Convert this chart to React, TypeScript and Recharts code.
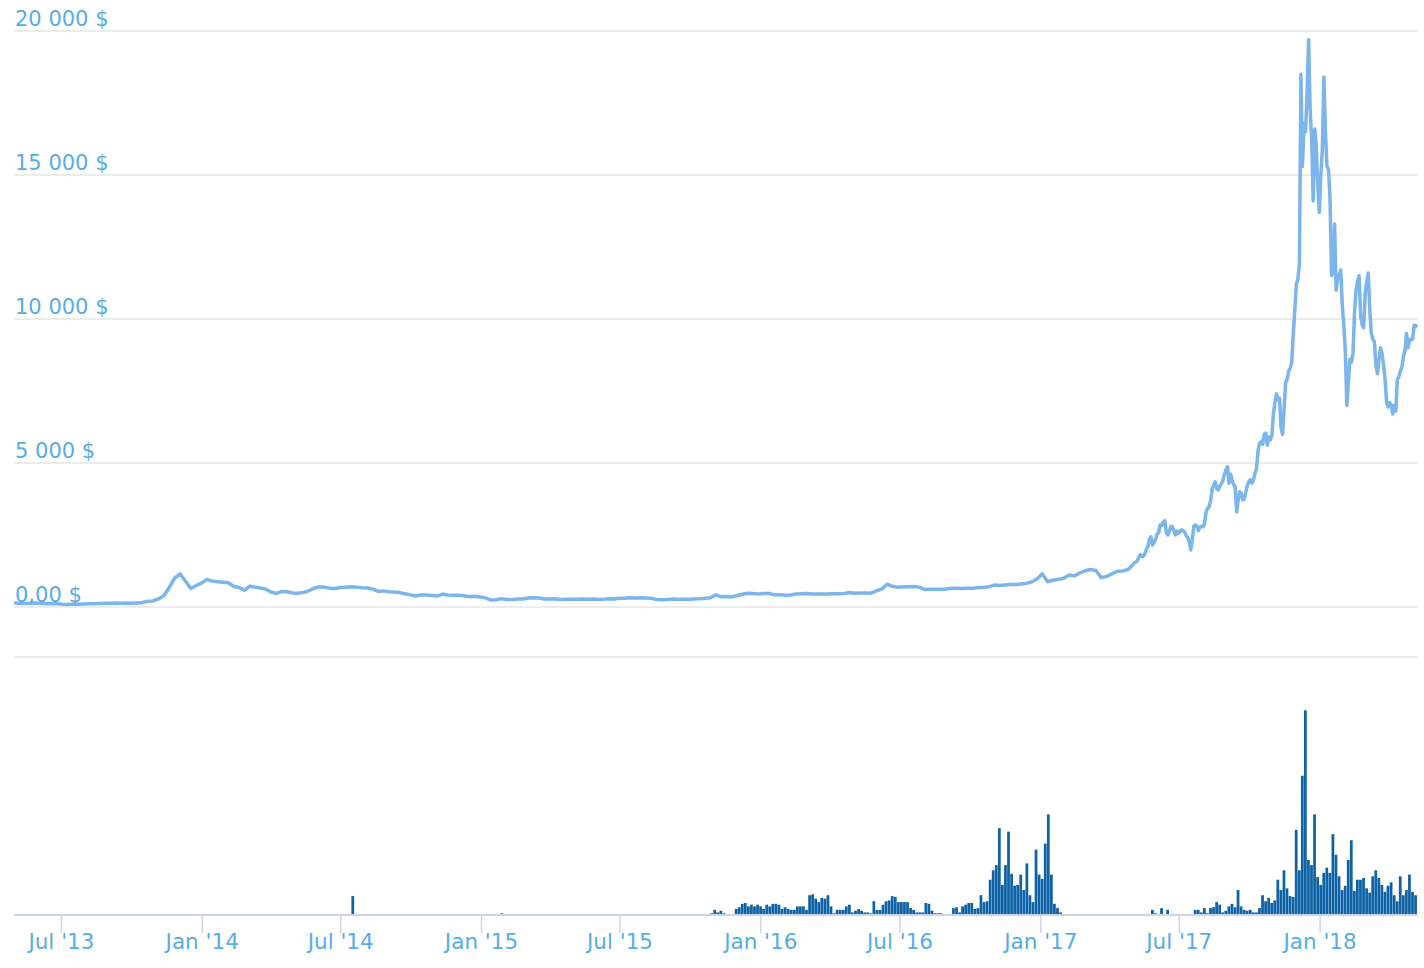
import React from "react"
import {
  LineChart,
  Line,
  BarChart,
  Bar,
  XAxis,
  YAxis,
  CartesianGrid,
} from "recharts"

// weekly closes (USD), first week starts 2013-04-30
const priceWeeklyStart = "2013-04-30"
const priceWeekly = [
  // 2013
  150, 125, 125, 130, 135, 128, 115, 112, 110, 95, 85, 100, 98, 108, 110, 110, 125, 130,
  130, 135, 130, 138, 130, 135, 160, 200, 210, 280, 400, 680, 1000, 1150, 900, 640, 740, 830,
  // 2014
  960, 900, 880, 860, 840, 720, 680, 580, 720, 690, 660, 620, 520, 470, 540, 530, 490, 480,
  500, 560, 650, 700, 690, 650, 640, 680, 690, 700, 690, 670, 660, 620, 540, 560, 530, 520,
  500, 460, 420, 380, 420, 420, 400, 380, 450, 420, 410, 410, 390, 360, 370, 350,
  // 2015
  320, 240, 250, 290, 260, 260, 280, 280, 310, 320, 310, 280, 280, 290, 260, 270, 265, 270,
  275, 270, 275, 265, 265, 285, 280, 300, 305, 320, 315, 325, 315, 300, 260, 255, 260, 275,
  265, 265, 270, 280, 285, 300, 320, 420, 360, 365, 350, 400, 440, 480, 465, 455,
  // 2016
  470, 470, 420, 430, 410, 420, 450, 460, 470, 450, 450, 455, 455, 460, 460, 470, 500, 480,
  490, 490, 480, 560, 620, 790, 720, 690, 700, 700, 710, 690, 610, 620, 620, 620, 620, 650,
  650, 640, 650, 650, 680, 680, 700, 760, 750, 760, 780, 780, 800, 820, 870, 970,
  // 2017
  1150, 880, 930, 960, 1000, 1110, 1080, 1180, 1260, 1300, 1270, 1020, 1060, 1150, 1240, 1250,
  1300,
]

// closes every second day (USD), starting 2017-05-01
const priceDailyStart = "2017-05-01"
const priceDaily = [
  // May - Jun 2017
  1460, 1520, 1560, 1600, 1720, 1820, 1760, 1760, 1840, 2000, 2100, 2350, 2440, 2150, 2250, 2350,
  2530, 2580, 2850, 2830, 2950, 3000, 2600, 2500, 2620, 2800, 2790, 2650, 2500, 2640, 2560,
  // Jul - Aug 2017
  2620, 2680, 2650, 2600, 2480, 2420, 2280, 1980, 2350, 2800, 2850, 2800, 2650, 2780, 2800,
  2780, 2900, 3300, 3420, 3480, 3700, 4100, 4240, 4350, 4100, 4060, 4200, 4280, 4400, 4600, 4760,
  // Sep - Oct 2017
  4870, 4300, 4620, 4400, 4250, 4180, 3300, 3700, 4000, 3950, 3720, 3750, 4000, 4220, 4360,
  4420, 4300, 4400, 4650, 4830, 5450, 5690, 5740, 5650, 6000, 6040, 5620, 5900, 5800, 5960,
  // Nov - Dec 2017
  6700, 7100, 7400, 7200, 7250, 6200, 6000, 6900, 7800, 7900, 8200, 8300, 8500, 9500, 10300,
  11200, 11400, 11900, 18500, 15300, 16800, 16500, 17800, 19700, 17300, 16200, 14100, 16600,
  16000, 14600, 13700,
  // Jan - Feb 2018
  15000, 15900, 18400, 16500, 15300, 15200, 14200, 11500, 11600, 13300, 11000, 11400, 11500,
  11700, 10500, 9800, 8900, 7000, 7800, 8600, 8500, 8800, 10200, 11000, 11300, 11500, 10100,
  9800, 9700,
  // Mar - May 2018
  10900, 11300, 11600, 10300, 9500, 9300, 9200, 8400, 8100, 8600, 9000, 8800, 8400, 7900, 7100,
  6950, 7100, 7000, 6700, 7000, 6800, 7900, 8000, 8200, 8340, 8700, 8920, 9500, 9000, 9300,
  9270, 9300, 9790, 9750, 9800,
]

// volume, one bar per 4 days, starting 2015-10-29
const volumeStart = "2015-10-29"
const volume = [
  2, 6, 3, 5, 2, 0, 0, 0, 7, 9, 13, 14, 10, 12, 10, 12, 10, 7, 12, 10, 13, 13, 12, 7, 9, 7, 6,
  6, 10, 10, 10, 6, 23, 24, 19, 15, 20, 19, 23, 10, 2, 6, 6, 6, 10, 12, 3, 5, 7, 5, 3, 3, 2, 16,
  6, 6, 12, 16, 17, 22, 21, 15, 15, 15, 15, 8, 6, 3, 3, 3, 14, 13, 5, 2, 2, 2, 1, 1, 1, 8, 9, 3,
  10, 12, 14, 14, 7, 8, 23, 15, 16, 41, 52, 58, 101, 35, 58, 97, 48, 34, 35, 47, 29, 60, 23, 15,
  76, 47, 42, 83, 117, 47, 13, 8, 3,
  0, 0, 0, 0, 0, 0, 0, 0, 0, 0, 1, 0, 0, 0, 0, 0, 0, 0, 0, 0, 0, 0, 0, 0, 0, 1, 0, 0, 1, 6, 2, 1,
  8, 1, 6, 1, 0, 1, 1, 0, 0, 1, 1, 6, 6, 3, 8, 2, 8, 9, 15, 12, 3, 5, 10, 13, 9, 29, 10, 6, 5, 6,
  3, 3, 8, 23, 16, 20, 14, 17, 41, 29, 52, 31, 22, 21, 99, 52, 162, 238, 64, 58, 117, 44, 35, 49,
  55, 49, 94, 70, 45, 29, 34, 64, 87, 28, 41, 41, 43, 31, 26, 45, 52, 43, 35, 27, 34, 38, 23, 16,
  45, 23, 29, 47, 27, 23,
]
// isolated early bars
const volumeEarlyDates = ["2014-07-17", "2015-01-28"]
const volumeEarly = [22, 2]

const priceTicks = [0, 5000, 10000, 15000, 20000]
const priceTickLabels = ["0,00 $", "5 000 $", "10 000 $", "15 000 $", "20 000 $"]
const volumeTicks = [0, 100, 200, 300]

const xTickDates = [
  "2013-07-01", "2014-01-01", "2014-07-01", "2015-01-01", "2015-07-01",
  "2016-01-01", "2016-07-01", "2017-01-01", "2017-07-01", "2018-01-01",
]
const xTickLabels = [
  "Jul '13", "Jan '14", "Jul '14", "Jan '15", "Jul '15",
  "Jan '16", "Jul '16", "Jan '17", "Jul '17", "Jan '18",
]
const xDomainDates = ["2013-04-30", "2018-05-09"]

const day = (s: string) => Date.parse(s + "T00:00:00Z") / 86400000

const dailyStart = day(priceDailyStart)
const priceData = [
  ...priceWeekly
    .map((price, i) => ({ t: day(priceWeeklyStart) + i * 7, price }))
    .filter((d) => d.t < dailyStart),
  ...priceDaily.map((price, i) => ({ t: dailyStart + i * 2, price })),
]

const volumeData = [
  ...volumeEarlyDates.map((d, i) => ({ t: day(d), v: volumeEarly[i] })),
  ...volume.map((v, i) => ({ t: day(volumeStart) + i * 4, v })),
]

const xTicks = xTickDates.map(day)
const xDomain = xDomainDates.map(day)

const WIDTH = 1424
const PLOT_LEFT = 14
const LABEL_COLOR = "#55ade8"
const FONT = "'DejaVu Sans', Verdana, sans-serif"

const renderPriceTick = (props: any) => {
  const { y, payload } = props
  const idx = priceTicks.indexOf(Number(payload.value))
  return (
    <text
      key={"pt" + payload.value}
      x={PLOT_LEFT + 1}
      y={y - 5}
      fill={LABEL_COLOR}
      fontSize={21}
      fontFamily={FONT}
      textAnchor="start"
    >
      {priceTickLabels[idx]}
    </text>
  )
}

const formatX = (t: number) => {
  const i = xTicks.findIndex((x) => Math.abs(x - t) < 0.5)
  return i >= 0 ? xTickLabels[i] : ""
}

export default function App() {
  return (
    <div
      style={{
        position: "absolute",
        left: 0,
        top: 0,
        width: WIDTH,
        height: 968,
        background: "#fff",
      }}
    >
      <div style={{ position: "absolute", left: 0, top: 0 }}>
        <LineChart
          width={WIDTH}
          height={610}
          data={priceData}
          margin={{ top: 31, right: 6, left: PLOT_LEFT, bottom: 3 }}
        >
          <CartesianGrid vertical={false} stroke="#e6e6e6" strokeWidth={1.5} />
          <XAxis
            dataKey="t"
            type="number"
            domain={xDomain}
            allowDataOverflow
            hide
          />
          <YAxis
            mirror
            width={1}
            domain={[0, 20000]}
            ticks={priceTicks}
            interval={0}
            axisLine={false}
            tickLine={false}
            tick={renderPriceTick}
          />
          <Line
            type="linear"
            dataKey="price"
            stroke="#7cb5ec"
            strokeWidth={3.5}
            strokeLinejoin="round"
            dot={false}
            isAnimationActive={false}
          />
        </LineChart>
      </div>
      <div style={{ position: "absolute", left: 0, top: 620 }}>
        <BarChart
          width={WIDTH}
          height={348}
          data={volumeData}
          margin={{ top: 37, right: 6, left: PLOT_LEFT, bottom: 0 }}
        >
          <CartesianGrid vertical={false} stroke="#e6e6e6" strokeWidth={1.5} />
          <XAxis
            dataKey="t"
            type="number"
            domain={xDomain}
            allowDataOverflow
            ticks={xTicks}
            tickFormatter={formatX}
            height={53}
            tickSize={18}
            tickMargin={1}
            axisLine={{ stroke: "#ccd6eb", strokeWidth: 2 }}
            tickLine={{ stroke: "#ccd6eb", strokeWidth: 1.5 }}
            tick={{ fill: LABEL_COLOR, fontSize: 21.5, fontFamily: FONT }}
            interval={0}
          />
          <YAxis
            width={0}
            domain={[0, 300]}
            ticks={volumeTicks}
            axisLine={false}
            tickLine={false}
            tick={false}
          />
          <Bar
            dataKey="v"
            fill="#0d62a5"
            barSize={3.8}
            isAnimationActive={false}
          />
        </BarChart>
      </div>
    </div>
  )
}
